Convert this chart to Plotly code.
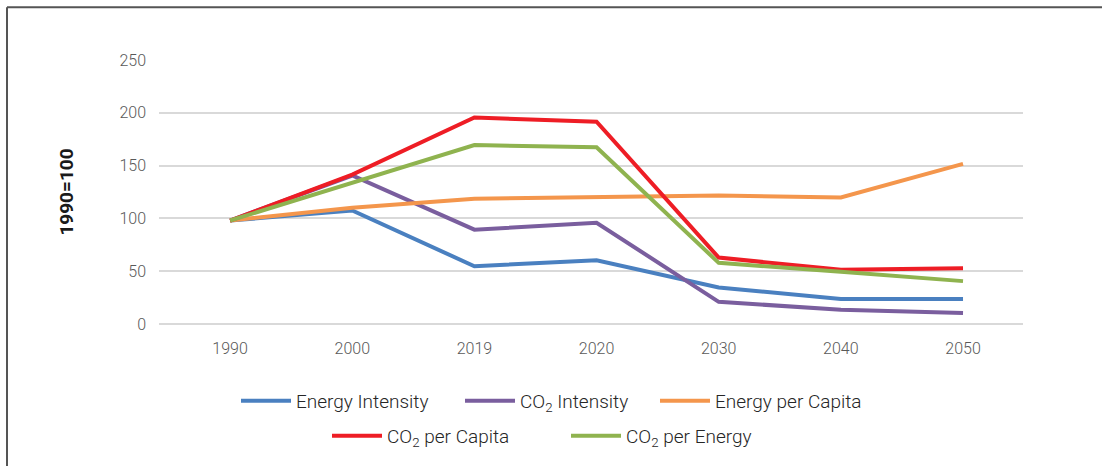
import plotly.graph_objects as go

# Categories on the x axis
years = ["1990", "2000", "2019", "2020", "2030", "2040", "2050"]

# Index values (1990 = 100)
energy_intensity = [98, 107.5, 54.7, 60.4, 34.6, 23.6, 23.6]
co2_intensity = [98, 140.6, 89.3, 95.9, 21.0, 13.5, 10.4]
energy_per_capita = [98, 110, 118.6, 120.4, 121.7, 119.8, 151.6]
co2_per_capita = [98, 141.5, 195.6, 191.5, 62.9, 51.3, 52.8]
co2_per_energy = [98, 134, 169.5, 167.3, 57.9, 49.4, 40.6]

y_ticks = [0, 50, 100, 150, 200, 250]

FONT = "Roboto, 'Open Sans', sans-serif"

W, H = 1102, 466
L, R, T, B = 159, 79, 60, 141
pw, ph = W - L - R, H - T - B

def px(x):
    return (x - L) / pw

def py(y):
    return (H - B - y) / ph

# name, values, colour, legend id, legend anchor (page px: left x, centre y)
series = [
    ("Energy Intensity", energy_intensity, "#4A80C0", "legend", 236, 401),
    ("CO<sub>2</sub> Intensity", co2_intensity, "#7A5E9E", "legend2", 460, 401),
    ("Energy per Capita", energy_per_capita, "#F4964C", "legend3", 655, 401),
    ("CO<sub>2</sub> per Capita", co2_per_capita, "#EE1D25", "legend4", 327, 436),
    ("CO<sub>2</sub> per Energy", co2_per_energy, "#8FB34F", "legend5", 566, 436),
]

fig = go.Figure()
legends = {}
for name, vals, color, leg, lx, ly in series:
    fig.add_trace(go.Scatter(
        x=years, y=vals, name=name, mode="lines",
        line=dict(color=color, width=4),
        legend=leg, showlegend=True,
    ))
    legends[leg] = dict(
        x=px(lx), y=py(ly),
        xanchor="left", yanchor="middle",
        orientation="h",
        font=dict(family=FONT, size=19, color="#262626", weight=300),
        bgcolor="rgba(0,0,0,0)",
        itemwidth=50,
    )

fig.update_layout(
    width=W, height=H,
    margin=dict(l=L, r=R, t=T, b=B),
    paper_bgcolor="white",
    plot_bgcolor="white",
    showlegend=True,
    font=dict(family=FONT, color="#595959"),
    xaxis=dict(
        range=[-0.582, 6.491],
        showgrid=False,
        showline=False,
        ticks="",
        ticklabelstandoff=13,
        tickfont=dict(family=FONT, size=16, color="#595959", weight=300),
    ),
    yaxis=dict(
        range=[0, 250],
        tickvals=y_ticks,
        showgrid=True,
        gridcolor="#D9D9D9",
        gridwidth=1.5,
        zeroline=True,
        zerolinecolor="#D9D9D9",
        zerolinewidth=1.5,
        showline=False,
        ticks="",
        ticklabelstandoff=12,
        tickfont=dict(family=FONT, size=16, color="#595959", weight=300),
        title=dict(text="<b>1990=100</b>", standoff=40,
                   font=dict(family=FONT, size=19, color="#1a1a1a")),
    ),
    shapes=[
        dict(type="line", xref="paper", yref="paper",
             x0=px(7), x1=px(W + 5), y0=py(7), y1=py(7),
             line=dict(color="#555555", width=2)),
        dict(type="line", xref="paper", yref="paper",
             x0=px(7), x1=px(7), y0=py(7), y1=py(H + 5),
             line=dict(color="#555555", width=2)),
    ],
    **legends,
)

fig.write_html("out.html")
